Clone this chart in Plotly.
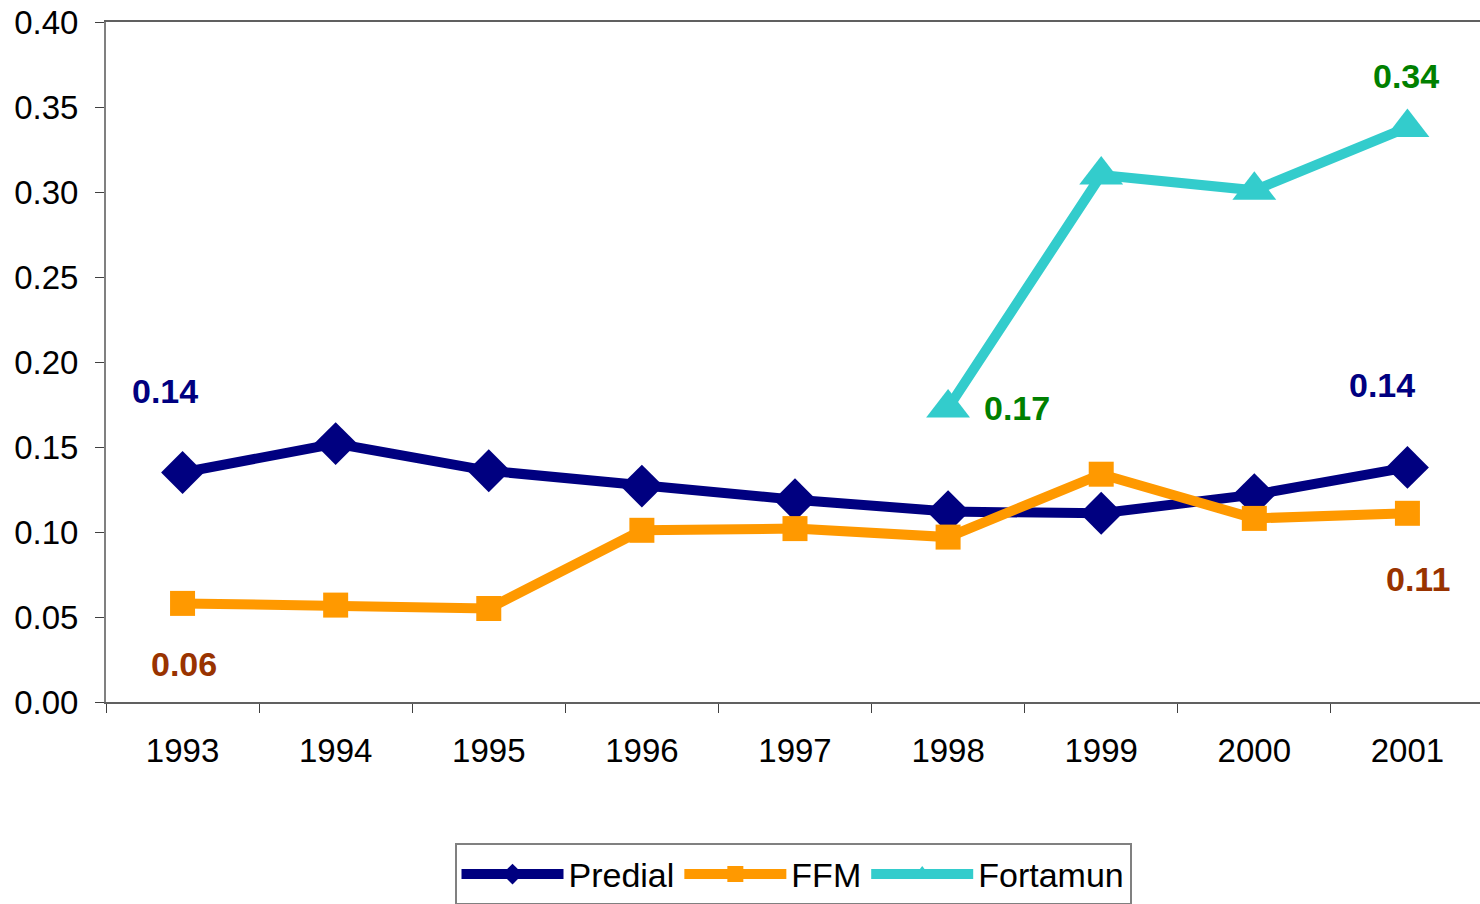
import plotly.graph_objects as go

years = ["1993", "1994", "1995", "1996", "1997", "1998", "1999", "2000", "2001"]
predial = [0.135, 0.152, 0.136, 0.127, 0.119, 0.112, 0.111, 0.122, 0.138]
ffm = [0.058, 0.057, 0.055, 0.101, 0.102, 0.097, 0.134, 0.108, 0.111]
fortamun = [None, None, None, None, None, 0.173, 0.310, 0.301, 0.338]
y_ticks = [0.0, 0.05, 0.10, 0.15, 0.20, 0.25, 0.30, 0.35, 0.40]

NAVY = "#000080"
ORANGE = "#FF9900"
TEAL = "#33CCCC"
FONT = "Liberation Sans, Arial, sans-serif"

fig = go.Figure()
fig.add_trace(go.Scatter(x=years, y=predial, name="Predial", mode="lines+markers",
                         line=dict(color=NAVY, width=10),
                         marker=dict(symbol="diamond", size=33, color=NAVY)))
fig.add_trace(go.Scatter(x=years, y=ffm, name="FFM", mode="lines+markers",
                         line=dict(color=ORANGE, width=10),
                         marker=dict(symbol="square", size=25, color=ORANGE)))
fig.add_trace(go.Scatter(x=years, y=fortamun, name="Fortamun", mode="lines+markers",
                         line=dict(color=TEAL, width=10),
                         marker=dict(symbol="triangle-up", size=38, color=TEAL)))

# data labels: (series values, index, color, xshift, yshift)
labels = [
    (predial, 0, NAVY, -18, 82),
    (predial, 8, NAVY, -25, 82),
    (ffm, 0, "#993300", 1, -61),
    (ffm, 8, "#993300", 11, -66),
    (fortamun, 5, "#008000", 69, 0),
    (fortamun, 8, "#008000", -1, 51),
]
annotations = []
for vals, i, col, dx, dy in labels:
    annotations.append(dict(x=i, y=vals[i], xref="x", yref="y",
                            text="<b>" + f"{vals[i]:.2f}" + "</b>", showarrow=False,
                            xshift=dx, yshift=dy,
                            font=dict(family=FONT, size=34, color=col)))

fig.update_layout(
    width=1480, height=904,
    margin=dict(l=106, r=0, t=22, b=202, autoexpand=False),
    paper_bgcolor="white", plot_bgcolor="white",
    font=dict(family=FONT, color="black"),
    showlegend=True,
    annotations=annotations,
    legend=dict(orientation="h", x=0.5, xanchor="center", y=-0.208, yanchor="top",
                bordercolor="#808080", borderwidth=2, bgcolor="white",
                font=dict(family=FONT, size=34, color="black"),
                itemwidth=102, traceorder="normal"),
)
fig.update_xaxes(type="category", range=[-0.5, 8.474],
                 showline=True, linecolor="#606060", linewidth=2, mirror=True,
                 ticks="outside", tickson="boundaries", ticklen=9, tickcolor="#404040",
                 tickfont=dict(family=FONT, size=33, color="black"),
                 ticklabelstandoff=18, showgrid=False, zeroline=False)
fig.update_yaxes(range=[0, 0.40], tickvals=y_ticks, tickformat=".2f",
                 showline=True, linecolor="#808080", linewidth=2,
                 ticks="outside", ticklen=9, tickcolor="#404040",
                 tickfont=dict(family=FONT, size=33, color="black"),
                 ticklabelstandoff=10, showgrid=False, zeroline=False)

fig.write_html("out.html", config={"displayModeBar": False},
               post_script="document.body.style.margin='0';document.body.style.overflow='hidden';")
